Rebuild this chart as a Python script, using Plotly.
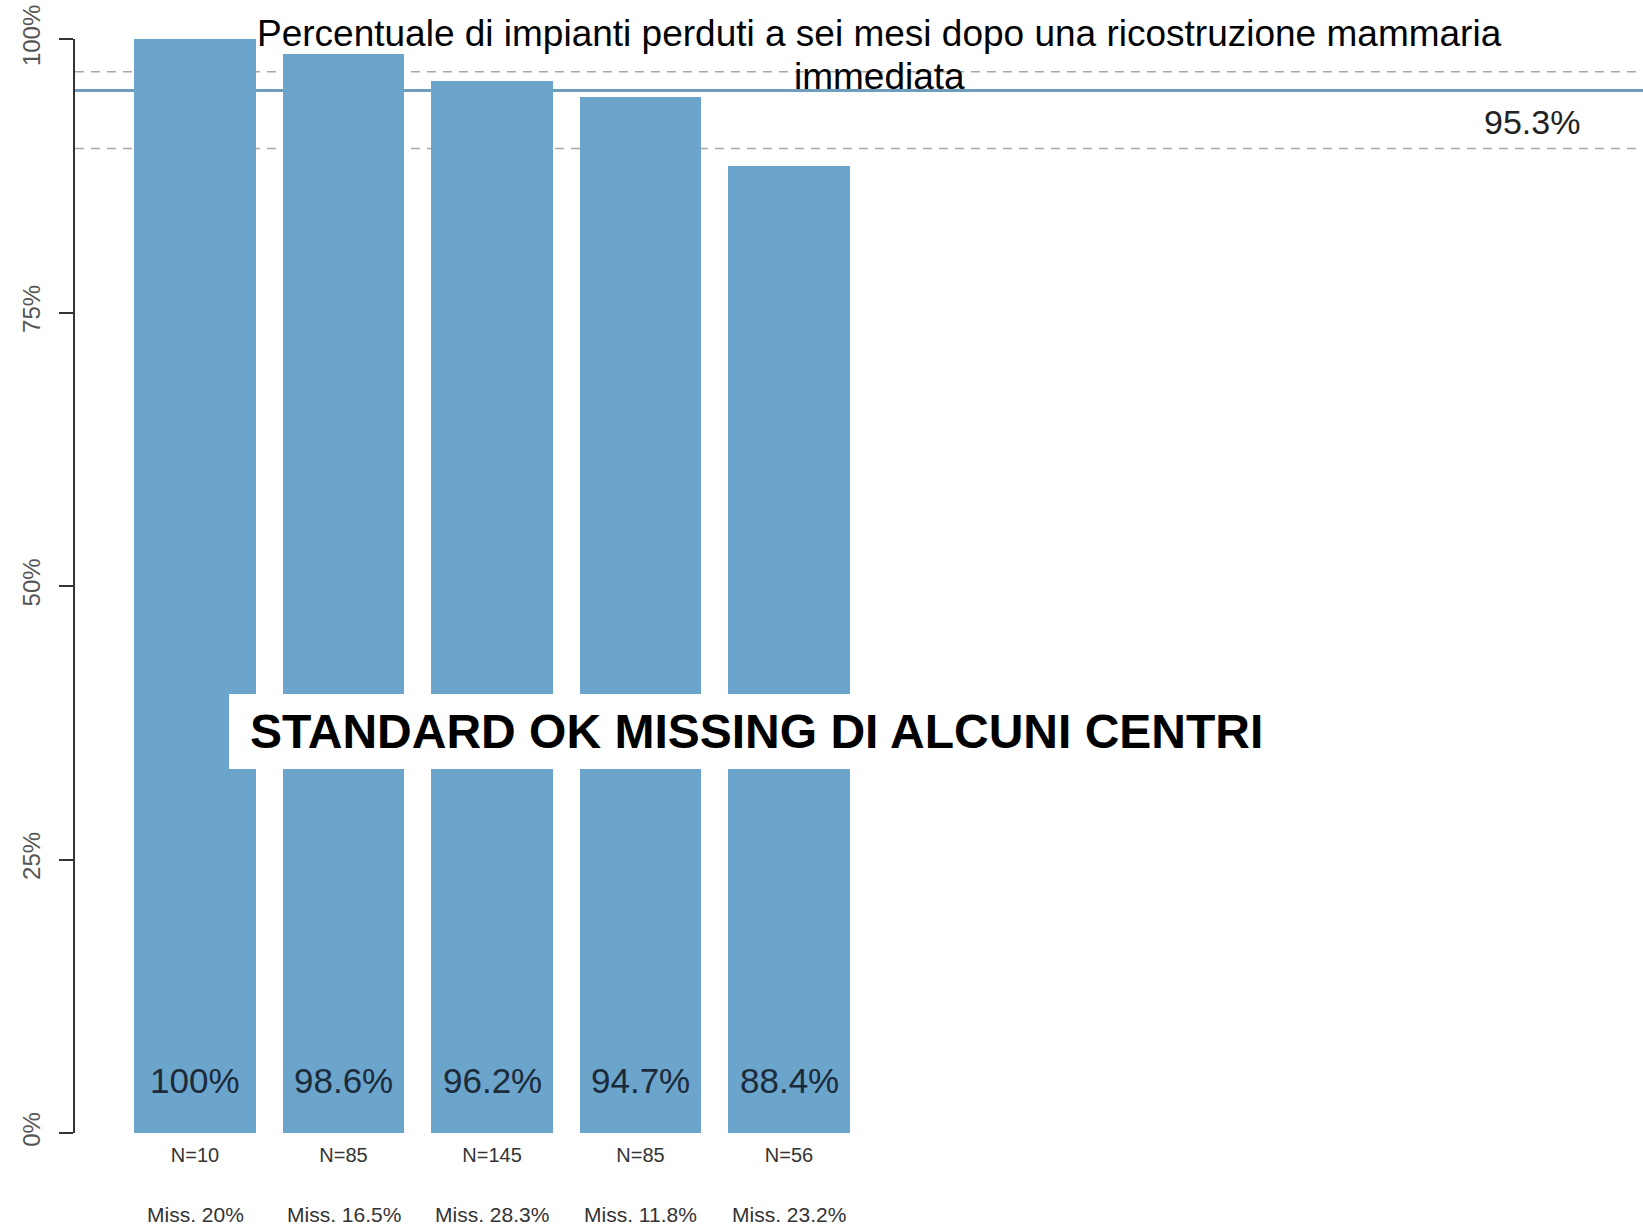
import plotly.graph_objects as go

# ---- data ----
centers = ["C1", "C2", "C3", "C4", "C5"]
values = [100, 98.6, 96.2, 94.7, 88.4]
n_labels = ["N=10", "N=85", "N=145", "N=85", "N=56"]
miss_labels = ["Miss. 20%", "Miss. 16.5%", "Miss. 28.3%", "Miss. 11.8%", "Miss. 23.2%"]
overall = 95.3
band_upper = 97
band_lower = 90
y_tickvals = [0, 25, 50, 75, 100]
y_ticktext = ["0%", "25%", "50%", "75%", "100%"]
title_lines = ["Percentuale di impianti perduti a sei mesi dopo una ricostruzione mammaria",
               "immediata"]
note_text = "STANDARD OK MISSING DI ALCUNI CENTRI"

BAR = "#6BA5CB"
FONT = "Liberation Sans, Arial, sans-serif"

W, H = 1643, 1228
L, R, T, B = 75, 0, 39, 95
PW, PH = W - L - R, H - T - B


def px_x(p):
    return (p - L) / PW


def px_y(p):
    return 1 - (p - T) / PH


xpos = list(range(len(centers)))

fig = go.Figure()
fig.add_trace(go.Bar(
    x=xpos, y=values, width=0.82,
    marker=dict(color=BAR, line=dict(width=0)),
    hoverinfo="skip", showlegend=False,
))

# reference lines (behind bars)
for yv in (band_upper, band_lower):
    fig.add_shape(type="line", xref="paper", x0=0, x1=1, yref="y", y0=yv, y1=yv,
                  line=dict(color="#A8A8A8", width=1.5, dash="9px,7px"), layer="below")
fig.add_shape(type="line", xref="paper", x0=0, x1=1, yref="y", y0=overall, y1=overall,
              line=dict(color="#6E9DBE", width=3), layer="below")

annotations = []
# values inside bars at the bottom
for x, v in zip(xpos, values):
    annotations.append(dict(x=x, y=0, xref="x", yref="y", text=f"{v:g}%", showarrow=False,
                            yshift=53, xanchor="center", yanchor="middle",
                            font=dict(family=FONT, size=35, color="#1C2A3A")))
# missing labels
for x, m in zip(xpos, miss_labels):
    annotations.append(dict(x=x, y=0, xref="x", yref="paper", text=m, showarrow=False,
                            yshift=-81, xanchor="center", yanchor="middle",
                            font=dict(family=FONT, size=21, color="#333333")))
# overall label
annotations.append(dict(x=px_x(1532), y=overall, xref="paper", yref="y",
                        text=f"{overall}%", showarrow=False, yshift=-32,
                        xanchor="center", yanchor="middle",
                        font=dict(family=FONT, size=34, color="#222222")))
# white box with note
fig.add_shape(type="rect", xref="paper", yref="paper",
              x0=px_x(229), x1=px_x(1290), y0=px_y(769), y1=px_y(694),
              fillcolor="white", line=dict(width=0), layer="above")
annotations.append(dict(x=px_x(248), y=px_y(731), xref="paper", yref="paper",
                        text=f"<b>{note_text}</b>", showarrow=False, xanchor="left", yanchor="middle",
                        font=dict(family=FONT, size=48, color="black")))
# title (two lines)
for line, yp in zip(title_lines, (33.5, 76.5)):
    annotations.append(dict(x=px_x(880), y=px_y(yp), xref="paper", yref="paper",
                            text=line, showarrow=False, xanchor="center", yanchor="middle",
                            font=dict(family=FONT, size=37, color="black")))

fig.update_layout(
    width=W, height=H,
    margin=dict(l=L, r=R, t=T, b=B, pad=0),
    paper_bgcolor="white", plot_bgcolor="white",
    annotations=annotations,
    bargap=0,
    xaxis=dict(range=[-0.808, 9.75], tickvals=xpos, ticktext=n_labels, showline=False,
               showgrid=False, zeroline=False, ticks="", ticklabelstandoff=8,
               tickfont=dict(family=FONT, size=20, color="#333333")),
    yaxis=dict(range=[0, 100], tickvals=y_tickvals, ticktext=y_ticktext, tickangle=-90,
               showline=True, linecolor="#333333", linewidth=2, showgrid=False, zeroline=False,
               ticks="outside", ticklen=14, tickwidth=2, tickcolor="#333333",
               ticklabelstandoff=9,
               tickfont=dict(family=FONT, size=24, color="#555555")),
)

fig.write_html("out.html", config={"displayModeBar": False},
               post_script="document.body.style.margin='0';document.body.style.overflow='hidden';")
